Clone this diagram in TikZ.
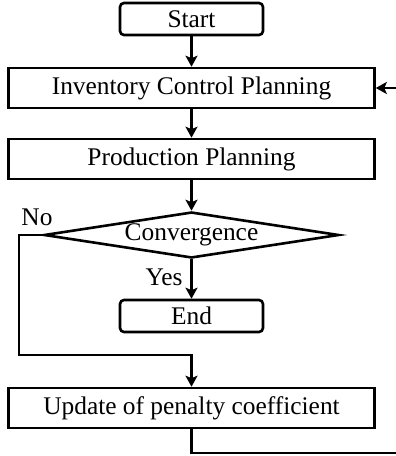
\documentclass[tikz,border=0pt]{standalone}
\usepackage{fontspec}
\setmainfont{Liberation Serif}
\usetikzlibrary{shapes.geometric,arrows.meta}

\begin{document}
\begin{tikzpicture}[x=1pt,y=-1pt,
  line width=2.6pt,
  every node/.style={font=\fontsize{25.4}{30}\selectfont},
  flowarrow/.style={-{Stealth[length=11pt,width=12pt,inset=2.5pt]}},
  terminal/.style={draw,rounded corners=4pt,minimum width=143pt,minimum height=32pt,inner sep=0pt},
  process/.style={draw,minimum width=366pt,minimum height=40pt,inner sep=0pt},
  decision/.style={draw,diamond,aspect=6.4,minimum width=295pt,minimum height=46pt,inner sep=0pt}
]
\useasboundingbox (0,0) rectangle (396,456);

% main column
\node[terminal] (start) at (191.5,19) {Start};
\node[process]  (inv)   at (191.5,88)  {Inventory Control Planning};
\node[process]  (prod)  at (191.5,159) {Production Planning};
\node[decision] (conv)  at (191.5,235) {Convergence};
\node[terminal] (end)   at (191.5,316) {End};
\node[process]  (upd)   at (191.5,408) {Update of penalty coefficient};

% branch labels
\node[anchor=base] (nolab)  at (37,225)  {No};
\node[anchor=base] (yeslab) at (164,285) {Yes};

% routing points of the loop
\coordinate (nocorner) at (19,355);
\coordinate (loopout)  at (399,453);
\coordinate (loopin)   at (399,88);

% connectors
\draw[flowarrow] (start.south) -- (inv.north);
\draw[flowarrow] (inv.south) -- (prod.north);
\draw[flowarrow] (prod.south) -- (conv.north);
\draw[flowarrow] (conv.south) -- (end.north);
\draw[flowarrow] (conv.west) -| (nocorner) -| (upd.north);
\draw (upd.south) |- (loopout);
\draw[flowarrow] (loopin) -- (inv.east);
\end{tikzpicture}
\end{document}
